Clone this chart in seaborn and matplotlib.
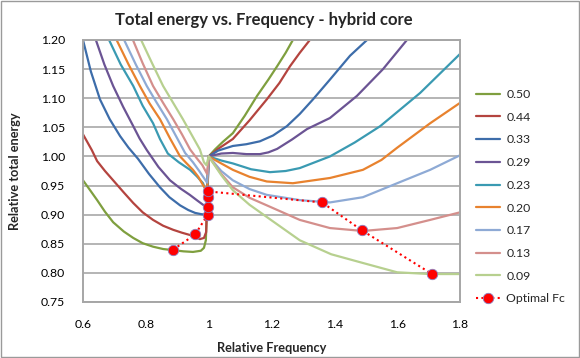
import numpy as np
import pandas as pd
import matplotlib
matplotlib.use("Agg")
import matplotlib.pyplot as plt
from matplotlib.lines import Line2D
from matplotlib.patches import Rectangle
import seaborn as sns

# ---------------- data ----------------
labels = ["0.50", "0.44", "0.33", "0.29", "0.23", "0.20", "0.17", "0.13", "0.09"]

x_050 = [0.6, 0.62, 0.645, 0.67, 0.696, 0.73, 0.76, 0.79, 0.823, 0.855, 0.887, 0.92, 0.95, 0.975,
         0.985, 0.991, 0.994, 0.996, 1.0,
         1.02, 1.045, 1.077, 1.115, 1.154, 1.19, 1.218, 1.245, 1.268]
y_050 = [0.959, 0.944, 0.925, 0.905, 0.887, 0.871, 0.86, 0.851, 0.845, 0.841, 0.839, 0.837, 0.836, 0.838,
         0.843, 0.856, 0.9, 0.96, 1.0,
         1.012, 1.025, 1.04, 1.07, 1.104, 1.132, 1.155, 1.178, 1.2]

x_044 = [0.6, 0.628, 0.645, 0.67, 0.696, 0.73, 0.76, 0.79, 0.823, 0.855, 0.887, 0.915, 0.941, 0.96,
         0.972, 0.985, 0.992, 0.995, 0.997, 1.0,
         1.03, 1.077, 1.13, 1.185, 1.225, 1.259, 1.29, 1.322]
y_044 = [1.038, 1.011, 0.992, 0.975, 0.959, 0.938, 0.92, 0.904, 0.891, 0.881, 0.874, 0.869, 0.865, 0.861,
         0.858, 0.86, 0.87, 0.92, 0.97, 1.0,
         1.013, 1.03, 1.062, 1.098, 1.126, 1.155, 1.178, 1.2]

x_033 = [0.6, 0.625, 0.654, 0.685, 0.718, 0.745, 0.775, 0.81, 0.845, 0.875, 0.909, 0.935, 0.957,
         0.975, 0.989, 0.996, 0.998, 1.0,
         1.03, 1.077, 1.12, 1.163, 1.205, 1.249, 1.29, 1.332, 1.386, 1.45, 1.504]
y_033 = [1.2, 1.146, 1.098, 1.064, 1.035, 1.015, 0.996, 0.97, 0.947, 0.93, 0.916, 0.908, 0.903,
         0.901, 0.9, 0.93, 0.97, 1.0,
         1.01, 1.018, 1.021, 1.026, 1.036, 1.052, 1.073, 1.098, 1.132, 1.173, 1.2]

x_029 = [0.641, 0.668, 0.696, 0.728, 0.76, 0.78, 0.803, 0.84, 0.877, 0.91, 0.94, 0.962, 0.982, 0.995,
         0.997, 1.0,
         1.04, 1.077, 1.12, 1.163, 1.19, 1.218, 1.265, 1.313, 1.386, 1.472, 1.555, 1.631]
y_029 = [1.2, 1.158, 1.121, 1.085, 1.052, 1.031, 1.011, 0.982, 0.959, 0.945, 0.934, 0.925, 0.917, 0.914,
         0.95, 1.0,
         1.005, 1.006, 1.004, 1.004, 1.007, 1.013, 1.029, 1.047, 1.066, 1.104, 1.15, 1.2]

x_023 = [0.683, 0.72, 0.76, 0.79, 0.823, 0.845, 0.87, 0.905, 0.941, 0.962, 0.982, 0.995, 0.998, 1.0,
         1.04, 1.077, 1.135, 1.195, 1.245, 1.29, 1.386, 1.465, 1.546, 1.673, 1.8]
y_023 = [1.2, 1.158, 1.121, 1.087, 1.057, 1.03, 1.005, 0.99, 0.977, 0.966, 0.954, 0.935, 0.97, 1.0,
         0.993, 0.988, 0.978, 0.973, 0.975, 0.98, 1.0, 1.024, 1.052, 1.109, 1.176]

x_020 = [0.707, 0.745, 0.781, 0.812, 0.845, 0.877, 0.909, 0.93, 0.95, 0.967, 0.982, 0.995, 0.998, 1.0,
         1.04, 1.077, 1.13, 1.185, 1.268, 1.386, 1.491, 1.55, 1.6, 1.705, 1.8]
y_020 = [1.2, 1.158, 1.121, 1.091, 1.064, 1.031, 1.0, 0.988, 0.977, 0.965, 0.951, 0.94, 0.975, 1.0,
         0.988, 0.977, 0.965, 0.957, 0.954, 0.963, 0.977, 0.994, 1.015, 1.057, 1.092]

x_017 = [0.731, 0.768, 0.803, 0.835, 0.867, 0.897, 0.925, 0.95, 0.97, 0.995, 0.998, 1.0,
         1.04, 1.077, 1.13, 1.185, 1.29, 1.386, 1.491, 1.6, 1.705, 1.8]
y_017 = [1.2, 1.158, 1.121, 1.092, 1.064, 1.034, 1.006, 0.99, 0.975, 0.955, 0.98, 1.0,
         0.975, 0.959, 0.944, 0.934, 0.925, 0.921, 0.93, 0.954, 0.977, 1.002]

x_013 = [0.759, 0.79, 0.823, 0.855, 0.887, 0.915, 0.941, 0.962, 0.98, 0.995, 1.0,
         1.04, 1.077, 1.13, 1.185, 1.29, 1.386, 1.491, 1.6, 1.705, 1.8]
y_013 = [1.2, 1.16, 1.121, 1.092, 1.064, 1.038, 1.012, 0.997, 0.985, 0.97, 1.0,
         0.97, 0.947, 0.929, 0.916, 0.891, 0.877, 0.872, 0.877, 0.891, 0.904]

x_009 = [0.785, 0.82, 0.855, 0.887, 0.918, 0.945, 0.972, 0.985, 0.993, 1.0,
         1.04, 1.077, 1.13, 1.185, 1.29, 1.39, 1.491, 1.6, 1.705, 1.8]
y_009 = [1.2, 1.16, 1.121, 1.092, 1.064, 1.038, 1.012, 0.99, 0.985, 1.0,
         0.968, 0.942, 0.917, 0.896, 0.856, 0.832, 0.817, 0.801, 0.798, 0.798]

opt_x = [0.887, 0.957, 0.997, 0.997, 0.997, 0.997, 1.361, 1.488, 1.711]
opt_y = [0.84, 0.866, 0.90, 0.914, 0.930, 0.940, 0.921, 0.873, 0.798]

xticks = [0.6, 0.8, 1.0, 1.2, 1.4, 1.6, 1.8]
xtick_labels = ["0.6", "0.8", "1", "1.2", "1.4", "1.6", "1.8"]
yticks = [0.75, 0.80, 0.85, 0.90, 0.95, 1.00, 1.05, 1.10, 1.15, 1.20]

colors = ["#7F9F3F", "#B4443F", "#3D6DAA", "#6B5494", "#3A9AB2",
          "#E8822E", "#8EAAD5", "#D48F8C", "#B7D08F"]

series_x = [x_050, x_044, x_033, x_029, x_023, x_020, x_017, x_013, x_009]
series_y = [y_050, y_044, y_033, y_029, y_023, y_020, y_017, y_013, y_009]

frames = []
for lab, xs, ys in zip(labels, series_x, series_y):
    frames.append(pd.DataFrame({"x": xs, "y": ys, "series": lab}))
df = pd.concat(frames, ignore_index=True)
df_opt = pd.DataFrame({"x": opt_x, "y": opt_y})

# ---------------- style ----------------
sns.set_theme(style="white")
plt.rcParams["font.family"] = ["Lato", "DejaVu Sans"]

fig = plt.figure(figsize=(5.8, 3.58), dpi=100)
ax = fig.add_axes([83 / 580, 1 - 302 / 358, 377 / 580, 262 / 358])

grid_c = "#A0A0A0"
for yv in yticks:
    ax.axhline(yv, color=grid_c, lw=1.1, zorder=0)

palette = dict(zip(labels, colors))
sns.lineplot(data=df, x="x", y="y", hue="series", hue_order=labels, palette=palette,
             sort=False, estimator=None, legend=False, linewidth=1.6, ax=ax, zorder=2)
for ln in ax.get_lines():
    ln.set_solid_joinstyle("round")
    ln.set_solid_capstyle("round")

sns.lineplot(data=df_opt, x="x", y="y", sort=False, estimator=None, color="#FF0000",
             linestyle=(0, (1, 1.6)), linewidth=1.5, ax=ax, zorder=3)
ax.plot(opt_x, opt_y, linestyle="none", marker="o", markersize=7.5,
        markerfacecolor="#FF0000", markeredgecolor="#8C7FBF", markeredgewidth=0.6, zorder=4)

ax.set_xlim(0.6, 1.8)
ax.set_ylim(0.75, 1.20)
ax.set_xticks(xticks)
ax.set_xticklabels(xtick_labels)
ax.set_yticks(yticks)
ax.set_yticklabels([f"{v:.2f}" for v in yticks])
ax.tick_params(axis="both", length=0, labelsize=8.8, colors="#000000")
ax.tick_params(axis="x", pad=12)
ax.tick_params(axis="y", pad=13)
for s in ax.spines.values():
    s.set_color("#A6A6A6")
    s.set_linewidth(1.4)
    s.set_visible(True)

ax.set_xlabel("Relative Frequency", fontsize=9.2, fontweight="bold", labelpad=9)
ax.set_ylabel("Relative total energy", fontsize=9.2, fontweight="bold", labelpad=14)
fig.text(264 / 580, 1 - 20 / 358, "Total energy vs. Frequency - hybrid core",
         ha="center", va="center", fontsize=12, fontweight="bold")

handles = [Line2D([0], [0], color=c, lw=1.6) for c in colors]
handles.append(Line2D([0], [0], color="#FF0000", lw=1.5, linestyle=(0, (1, 1.6)),
                      marker="o", markersize=7.5, markerfacecolor="#FF0000",
                      markeredgecolor="#8C7FBF", markeredgewidth=0.6))
leg = fig.legend(handles, labels + ["Optimal Fc"], loc="upper left",
                 bbox_to_anchor=(471 / 580, 1 - 84 / 358), frameon=False,
                 fontsize=8.8, handlelength=2.0, handletextpad=0.5,
                 labelspacing=0.96, borderaxespad=0)

fig.patches.append(Rectangle((0.001, 0.002), 0.997, 0.995, transform=fig.transFigure,
                             fill=False, edgecolor="#9A9A9A", lw=1.0))

fig.savefig("out.png", dpi=100)
